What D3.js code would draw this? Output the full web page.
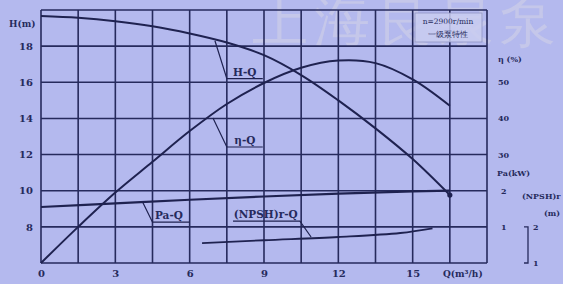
<!DOCTYPE html>
<html>
<head>
<meta charset="utf-8">
<script src="https://cdn.jsdelivr.net/npm/d3@7"></script>
<style>
    html, body { margin: 0; padding: 0; background: #b4b9ee; }
    svg { display: block; }
    text { font-family: "DejaVu Serif", "Liberation Serif", serif; fill: #262a5c; }
</style>
</head>
<body>
<svg id="chart" width="563" height="284"></svg>
<script>
// values
const flowQ = [0, 1.5, 3, 4.5, 6, 7.5, 9, 10.5, 12, 13.5, 15, 16.5];
const headH = [19.67, 19.57, 19.38, 19.1, 18.7, 18.2, 17.5, 16.4, 15.0, 13.45, 11.75, 9.76];
const efficiency = [0, 10, 19.5, 28, 36.5, 44, 49.8, 54, 56, 55.3, 50.8, 43.5];

const powerQ = [0, 3, 6, 9, 12, 15, 16.5];
const powerPa = [1.55, 1.65, 1.75, 1.84, 1.92, 1.98, 2.0];

const npshQ = [6.5, 9, 12, 14.5, 15.8];
const npshR = [1.55, 1.63, 1.72, 1.83, 1.96];

const qTicks = [0, 3, 6, 9, 12, 15];
const hTicks = [8, 10, 12, 14, 16, 18];
const etaTicks = [30, 40, 50];
const paTicks = [1, 2];
const npshTicks = [1, 2];

const svg = d3.select("#chart");
const lineColor = "#262a5c";
const curveStroke = "#1f2250";

const x = d3.scaleLinear().domain([0, 18]).range([41, 487]);
const yH = d3.scaleLinear().domain([6, 20]).range([263, 10]);
const yEta = d3.scaleLinear().domain([0, 70]).range([263, 10]);
const yPa = d3.scaleLinear().domain([0, 7]).range([263, 10]);
const yNpsh = d3.scaleLinear().domain([1, 8]).range([263, 10]);

// faint watermark, sits under everything
svg.append("text").attr("x", 252).attr("y", 40)
    .attr("font-size", 56).attr("font-family", "Noto Sans CJK SC")
    .attr("letter-spacing", 6)
    .style("fill", "#d6d6e6").attr("fill-opacity", 0.5)
    .text("上海良泉泵");

// grid
const grid = svg.append("g");
grid.selectAll(".vline")
    .data(d3.range(0, 18.01, 1.5))
    .join("line")
    .attr("x1", d => x(d)).attr("x2", d => x(d))
    .attr("y1", yH(20)).attr("y2", yH(6))
    .attr("stroke", lineColor).attr("stroke-width", 1.6);
grid.selectAll(".hline")
    .data(d3.range(6, 20.01, 2))
    .join("line")
    .attr("x1", x(0)).attr("x2", x(18))
    .attr("y1", d => yH(d)).attr("y2", d => yH(d))
    .attr("stroke", lineColor).attr("stroke-width", 1.6);

function styleTicks(axisG, size) {
    axisG.select(".domain").remove();
    axisG.selectAll("text").attr("font-size", size).attr("font-weight", "bold")
        .attr("font-family", "DejaVu Serif").attr("fill", lineColor);
}

// left axis
const leftAxis = svg.append("g")
    .attr("transform", `translate(${x(0)},0)`)
    .call(d3.axisLeft(yH).tickValues(hTicks).tickSize(0).tickPadding(8));
styleTicks(leftAxis, 10);
svg.append("text").attr("x", 9).attr("y", yH(19.2) + 3)
    .attr("font-size", 9).attr("font-weight", "bold").text("H(m)");

// bottom axis
const bottomAxis = svg.append("g")
    .attr("transform", `translate(0,${yH(6)})`)
    .call(d3.axisBottom(x).tickValues(qTicks).tickSize(0).tickPadding(7));
styleTicks(bottomAxis, 10);
svg.append("text").attr("x", 443).attr("y", 277)
    .attr("font-size", 9).attr("font-weight", "bold").text("Q(m³/h)");

// right side axes
const rightX = 498;
const intFmt = d3.format("d");
const etaAxis = svg.append("g")
    .attr("transform", `translate(${rightX},0)`)
    .call(d3.axisRight(yEta).tickValues(etaTicks).tickFormat(intFmt).tickSize(0).tickPadding(0));
styleTicks(etaAxis, 8);
svg.append("text").attr("x", rightX).attr("y", yEta(56.5) + 3)
    .attr("font-size", 8).attr("font-weight", "bold").text("η (%)");

const paAxis = svg.append("g")
    .attr("transform", `translate(${rightX + 3},0)`)
    .call(d3.axisRight(yPa).tickValues(paTicks).tickFormat(intFmt).tickSize(0).tickPadding(0));
styleTicks(paAxis, 8);
svg.append("text").attr("x", rightX - 1).attr("y", yPa(2.5) + 3)
    .attr("font-size", 8).attr("font-weight", "bold").text("Pa(kW)");

const npshX = 528;
const npshAxis = svg.append("g")
    .attr("transform", `translate(${npshX + 5},0)`)
    .call(d3.axisRight(yNpsh).tickValues(npshTicks).tickFormat(intFmt).tickSize(0).tickPadding(0));
styleTicks(npshAxis, 8);
svg.append("path")
    .attr("d", `M${npshX - 4},${yNpsh(2)} H${npshX} V${yNpsh(1)} H${npshX - 4}`)
    .attr("fill", "none").attr("stroke", lineColor).attr("stroke-width", 1.3);
svg.append("text").attr("x", 522).attr("y", yNpsh(2.85) + 3)
    .attr("font-size", 8).attr("font-weight", "bold").text("(NPSH)r");
svg.append("text").attr("x", 544).attr("y", yNpsh(2.38) + 3)
    .attr("font-size", 8).attr("font-weight", "bold").text("(m)");

// curves
const smooth = d3.curveCatmullRom.alpha(0.5);
const hLine = d3.line().x((d, i) => x(flowQ[i])).y(d => yH(d)).curve(smooth);
const etaLine = d3.line().x((d, i) => x(flowQ[i])).y(d => yEta(d)).curve(smooth);
const paLine = d3.line().x((d, i) => x(powerQ[i])).y(d => yPa(d)).curve(smooth);
const npshLine = d3.line().x((d, i) => x(npshQ[i])).y(d => yNpsh(d)).curve(smooth);

svg.append("path").attr("d", paLine(powerPa))
    .attr("fill", "none").attr("stroke", curveStroke).attr("stroke-width", 2.2);
svg.append("path").attr("d", npshLine(npshR))
    .attr("fill", "none").attr("stroke", curveStroke).attr("stroke-width", 1.8);
svg.append("path").attr("d", hLine(headH))
    .attr("fill", "none").attr("stroke", curveStroke).attr("stroke-width", 2);
svg.append("path").attr("d", etaLine(efficiency))
    .attr("fill", "none").attr("stroke", curveStroke).attr("stroke-width", 2);

svg.append("circle")
    .attr("cx", x(flowQ[flowQ.length - 1]))
    .attr("cy", yH(headH[headH.length - 1]))
    .attr("r", 2.6).attr("fill", curveStroke);

// curve labels with leaders
function curveLabel(text, from, knee, end, textX, textY) {
    svg.append("path")
        .attr("d", `M${from[0]},${from[1]} L${knee[0]},${knee[1]} L${end[0]},${end[1]}`)
        .attr("fill", "none").attr("stroke", curveStroke).attr("stroke-width", 1.2);
    svg.append("text").attr("x", textX).attr("y", textY)
        .attr("font-size", 10.5).attr("font-weight", "bold").text(text);
}

curveLabel("H-Q",
    [x(7.02), yH(18.3)], [x(7.5), yH(16.2)], [x(8.95), yH(16.2)],
    x(7.75), yH(16.2) - 3);
curveLabel("η-Q",
    [x(6.94), yEta(40.1)], [x(7.5), yEta(32.1)], [x(8.95), yEta(32.1)],
    x(7.8), yEta(32.1) - 3);
curveLabel("Pa-Q",
    [x(4.1), yPa(1.69)], [x(4.5), yPa(1.13)], [x(6.0), yPa(1.13)],
    x(4.6), yPa(1.13) - 3);
curveLabel("(NPSH)r-Q",
    [x(10.9), yNpsh(1.72)], [x(10.45), yNpsh(2.16)], [x(7.75), yNpsh(2.16)],
    x(7.78), yNpsh(2.16) - 3);

// speed note box
svg.append("rect").attr("x", 415).attr("y", 13).attr("width", 67).attr("height", 29)
    .attr("fill", "#c9ccf0").attr("fill-opacity", 0.85)
    .attr("stroke", "#8f93c4").attr("stroke-width", 0.8);
svg.append("text").attr("x", 448).attr("y", 24).attr("text-anchor", "middle")
    .attr("font-size", 7.5).attr("font-family", "DejaVu Sans").text("n=2900r/min");
svg.append("text").attr("x", 448).attr("y", 37).attr("text-anchor", "middle")
    .attr("font-size", 8).attr("font-family", "Noto Sans CJK SC").text("一级泵特性");
</script>
</body>
</html>
